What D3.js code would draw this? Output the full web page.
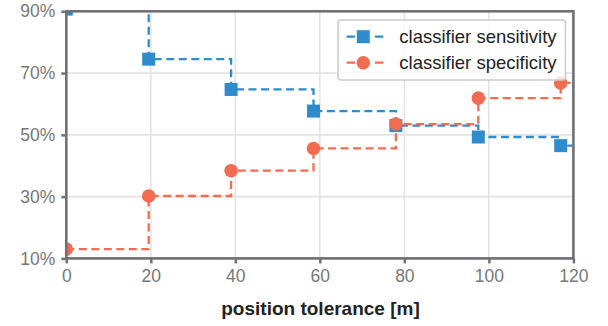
<!DOCTYPE html>
<html>
<head>
<meta charset="utf-8">
<script src="https://cdn.jsdelivr.net/npm/d3@7"></script>
<style>
  body { margin: 0; background: #fff; }
  svg { font-family: "Liberation Sans", Arial, sans-serif; }
</style>
</head>
<body>
<svg width="608" height="326"></svg>
<script>
// position tolerance in metres
var tolerance = [0, 19.5, 39, 58.5, 78, 97.5, 117];
// values in percent
var sensitivity = [90.7, 74.5, 64.7, 57.7, 53.0, 49.3, 46.5];
var specificity = [13.0, 30.2, 38.4, 45.6, 53.5, 61.9, 66.8];
var seriesNames = ["classifier sensitivity", "classifier specificity"];
var xTicks = [0, 20, 40, 60, 80, 100, 120];
var yTicks = [10, 30, 50, 70, 90];

var blue = "#2f8ccc";
var orange = "#f26c51";
var axisGrey = "#707075";

// plot area (window.top is taken, so named plotTop)
var plotLeft = 66.3, plotRight = 573.4, plotTop = 11.3, plotBottom = 258.4;

var svg = d3.select("svg");

var xScale = d3.scaleLinear().domain([0, 120]).range([plotLeft, plotRight]);
var yScale = d3.scaleLinear().domain([10, 90]).range([plotBottom, plotTop]);

// grid lines
svg.append("g")
  .selectAll("line")
  .data(xTicks)
  .enter()
  .append("line")
  .attr("x1", (d) => xScale(d))
  .attr("x2", (d) => xScale(d))
  .attr("y1", plotTop)
  .attr("y2", plotBottom)
  .attr("stroke", "#e3e3e3")
  .attr("stroke-width", 1.6);

svg.append("g")
  .selectAll("line")
  .data(yTicks)
  .enter()
  .append("line")
  .attr("x1", plotLeft)
  .attr("x2", plotRight)
  .attr("y1", (d) => yScale(d))
  .attr("y2", (d) => yScale(d))
  .attr("stroke", "#e3e3e3")
  .attr("stroke-width", 1.6);

// clip everything to the frame
svg.append("clipPath")
  .attr("id", "plotclip")
  .append("rect")
  .attr("x", plotLeft)
  .attr("y", plotTop)
  .attr("width", plotRight - plotLeft)
  .attr("height", plotBottom - plotTop);

var plot = svg.append("g").attr("clip-path", "url(#plotclip)");

function stepLine(values) {
  var pts = tolerance.map((t, i) => [xScale(t), yScale(values[i])]);
  // the line keeps going past the last marker to the frame edge
  pts.push([xScale(xScale.domain()[1]) + 20, yScale(values[values.length - 1])]);
  return d3.line().curve(d3.curveStepAfter)(pts);
}

plot.append("path")
  .attr("d", stepLine(sensitivity))
  .attr("fill", "none")
  .attr("stroke", blue)
  .attr("stroke-width", 2.3)
  .attr("stroke-dasharray", "8,4.5");

plot.append("path")
  .attr("d", stepLine(specificity))
  .attr("fill", "none")
  .attr("stroke", orange)
  .attr("stroke-width", 2.3)
  .attr("stroke-dasharray", "8,4.5");

// square markers
var sq = 13;
plot.selectAll("rect")
  .data(sensitivity)
  .enter()
  .append("rect")
  .attr("x", (d, i) => xScale(tolerance[i]) - sq / 2)
  .attr("y", (d) => yScale(d) - sq / 2)
  .attr("width", sq)
  .attr("height", sq)
  .attr("fill", blue);

// round markers
plot.selectAll("circle")
  .data(specificity)
  .enter()
  .append("circle")
  .attr("cx", (d, i) => xScale(tolerance[i]))
  .attr("cy", (d) => yScale(d))
  .attr("r", 6.8)
  .attr("fill", orange);

// axes
var xAxis = d3.axisBottom(xScale).tickValues(xTicks).tickSize(5).tickPadding(6);
var yAxis = d3.axisLeft(yScale).tickValues(yTicks).tickSize(5).tickPadding(6)
  .tickFormat((d) => d + "%");

var gx = svg.append("g")
  .attr("transform", `translate(0,${plotBottom})`)
  .call(xAxis);
var gy = svg.append("g")
  .attr("transform", `translate(${plotLeft},0)`)
  .call(yAxis);

[gx, gy].forEach(function (g) {
  g.select(".domain").remove();
  g.selectAll(".tick line").attr("stroke", axisGrey).attr("stroke-width", 2.5);
  g.selectAll(".tick text")
    .attr("fill", "#777")
    .style("font-size", "17.5px")
    .style("font-family", "Liberation Sans, Arial, sans-serif");
});

// frame
svg.append("rect")
  .attr("x", plotLeft)
  .attr("y", plotTop)
  .attr("width", plotRight - plotLeft)
  .attr("height", plotBottom - plotTop)
  .attr("fill", "none")
  .attr("stroke", axisGrey)
  .attr("stroke-width", 2.6);

// x axis title
svg.append("text")
  .attr("x", 320.5)
  .attr("y", 315)
  .attr("text-anchor", "middle")
  .text("position tolerance [m]")
  .style("fill", "#222")
  .style("font-size", "19px")
  .style("font-weight", "bold");

// legend
var legend = svg.append("g");
legend.append("rect")
  .attr("x", 338)
  .attr("y", 20)
  .attr("width", 227.5)
  .attr("height", 60)
  .attr("rx", 3)
  .attr("fill", "white")
  .attr("fill-opacity", 0.8)
  .attr("stroke", "#cccccc")
  .attr("stroke-width", 1.6);

var rows = legend.selectAll("g.row")
  .data(seriesNames)
  .enter()
  .append("g")
  .attr("class", "row")
  .attr("transform", (d, i) => `translate(0,${36.7 + i * 26})`);

// one dash each side of the marker
rows.append("line")
  .attr("x1", 346.7)
  .attr("x2", 383.3)
  .attr("stroke", (d, i) => (i == 0 ? blue : orange))
  .attr("stroke-width", 2.3)
  .attr("stroke-dasharray", "8.3,20");

rows.filter((d, i) => i == 0)
  .append("rect")
  .attr("x", 363.3 - sq / 2)
  .attr("y", -sq / 2)
  .attr("width", sq)
  .attr("height", sq)
  .attr("fill", blue);

rows.filter((d, i) => i == 1)
  .append("circle")
  .attr("cx", 363.3)
  .attr("r", 6.8)
  .attr("fill", orange);

rows.append("text")
  .attr("x", 399.3)
  .attr("dy", "0.35em")
  .text((d) => d)
  .style("fill", "#222")
  .style("font-size", "18.5px");
</script>
</body>
</html>
